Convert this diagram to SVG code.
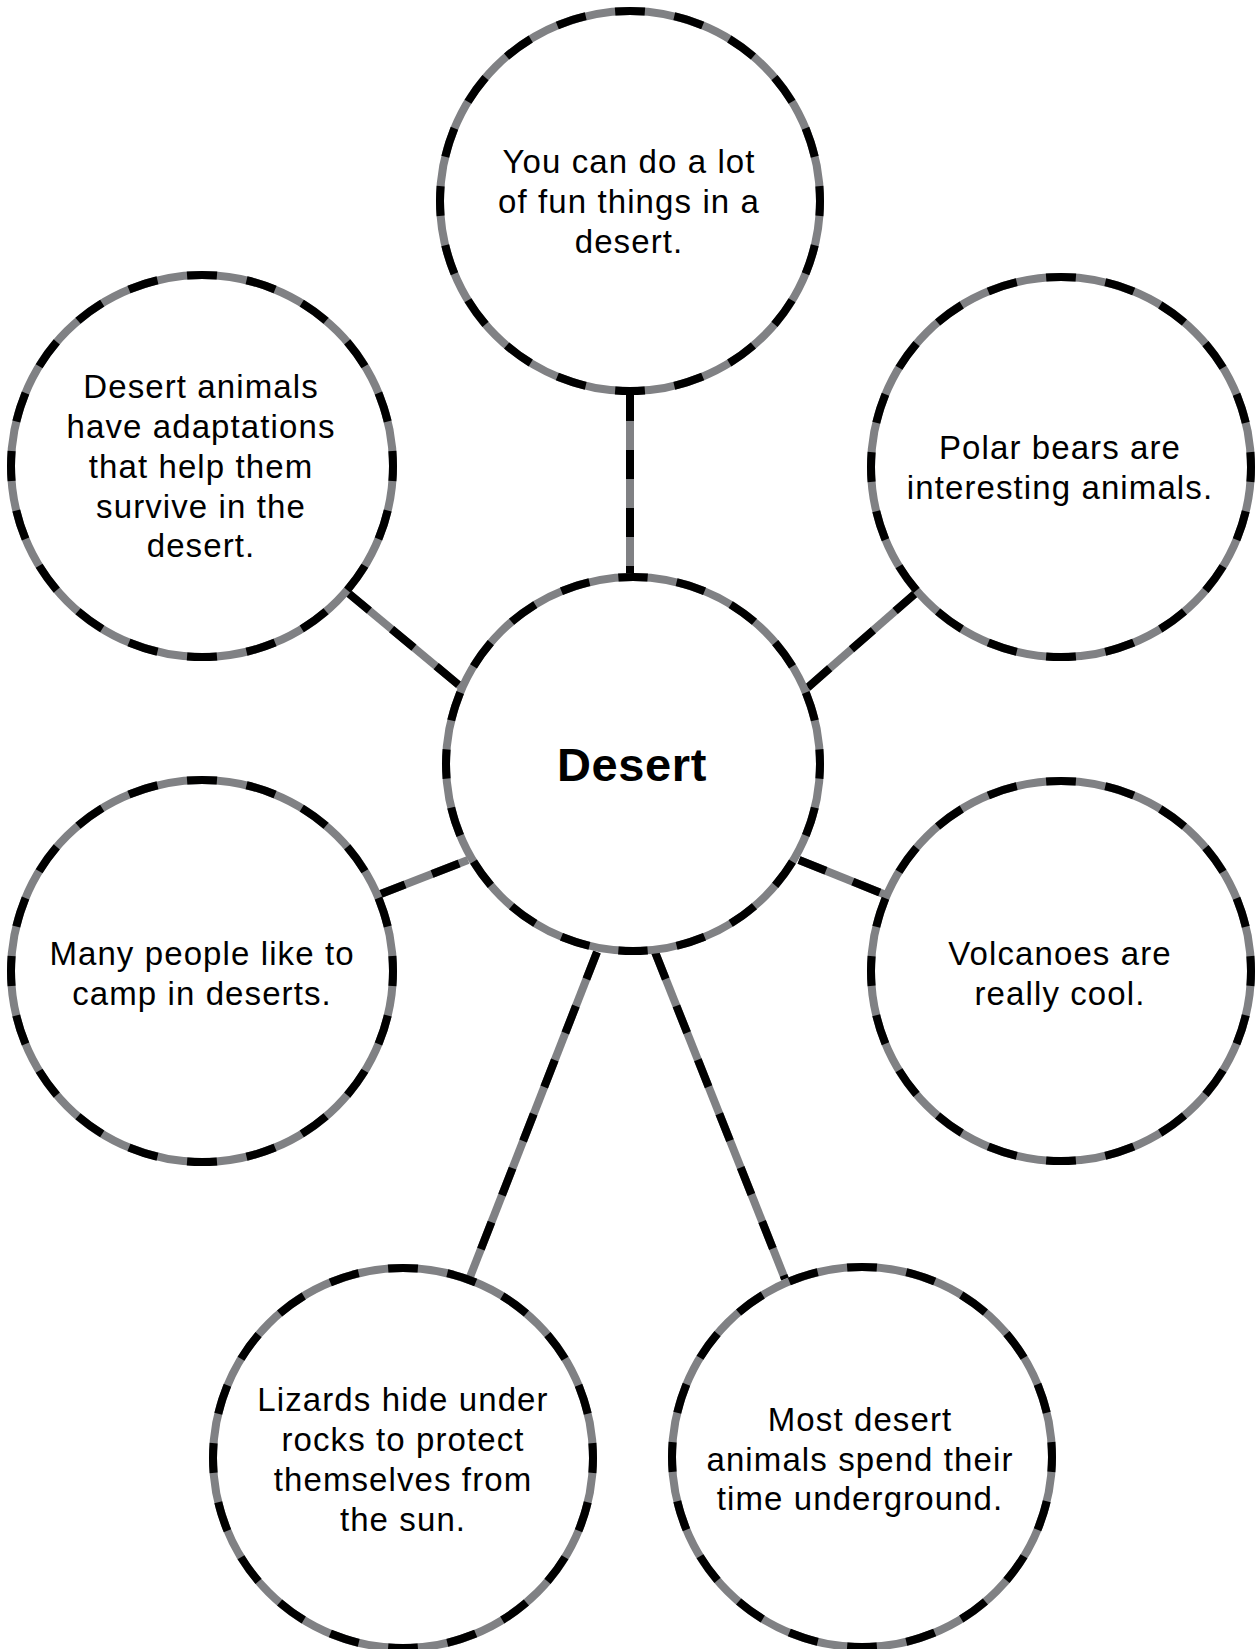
<svg xmlns="http://www.w3.org/2000/svg" width="1259" height="1649" viewBox="0 0 1259 1649">
<style>
.base{fill:none;stroke:#808184;stroke-width:8}
.dash{fill:none;stroke:#000;stroke-width:8;stroke-dasharray:29 29}
.cd{fill:none;stroke:#000;stroke-width:8;stroke-dasharray:1 1;stroke-dashoffset:0.5}
.node{fill:#fff}
.t{font-family:"Liberation Sans",Arial,sans-serif;font-size:33px;letter-spacing:1.1px;text-anchor:middle;fill:#000}
.b{font-family:"Liberation Sans",Arial,sans-serif;font-size:47px;font-weight:bold;letter-spacing:0.6px;text-anchor:middle;fill:#000}
</style>
<rect width="1259" height="1649" fill="#fff"/>
<g id="connectors">
<g class="base">
<line x1="630" y1="392" x2="630" y2="576"/>
<line x1="347" y1="592" x2="460" y2="686"/>
<line x1="917" y1="592" x2="806" y2="689"/>
<line x1="378" y1="895" x2="468" y2="860"/>
<line x1="799" y1="860" x2="886" y2="895"/>
<line x1="597" y1="952" x2="470" y2="1277"/>
<line x1="655" y1="952" x2="785" y2="1279"/>
</g>
<g class="dash">
<line x1="630" y1="392" x2="630" y2="576"/>
<line x1="347" y1="592" x2="460" y2="686"/>
<line x1="917" y1="592" x2="806" y2="689"/>
<line x1="378" y1="895" x2="468" y2="860"/>
<line x1="799" y1="860" x2="886" y2="895"/>
<line x1="597" y1="952" x2="470" y2="1277"/>
<line x1="655" y1="952" x2="785" y2="1279"/>
</g>
</g>
<g id="node-center">
<circle class="node" cx="633" cy="764" r="187"/>
<circle class="base" cx="633" cy="764" r="187"/>
<circle class="cd" cx="633" cy="764" r="187" pathLength="40"/>
<text class="b" x="632" y="781">Desert</text>
</g>
<g id="node-top">
<circle class="node" cx="630" cy="201" r="190"/>
<circle class="base" cx="630" cy="201" r="190"/>
<circle class="cd" cx="630" cy="201" r="190" pathLength="40"/>
<text class="t" x="629" y="173">You can do a lot</text>
<text class="t" x="629" y="213">of fun things in a</text>
<text class="t" x="629" y="253">desert.</text>
</g>
<g id="node-top-left">
<circle class="node" cx="202" cy="466" r="191"/>
<circle class="base" cx="202" cy="466" r="191"/>
<circle class="cd" cx="202" cy="466" r="191" pathLength="40"/>
<text class="t" x="201" y="398">Desert animals</text>
<text class="t" x="201" y="438">have adaptations</text>
<text class="t" x="201" y="478">that help them</text>
<text class="t" x="201" y="518">survive in the</text>
<text class="t" x="201" y="557">desert.</text>
</g>
<g id="node-top-right">
<circle class="node" cx="1061" cy="467" r="190"/>
<circle class="base" cx="1061" cy="467" r="190"/>
<circle class="cd" cx="1061" cy="467" r="190" pathLength="40"/>
<text class="t" x="1060" y="459">Polar bears are</text>
<text class="t" x="1060" y="499">interesting animals.</text>
</g>
<g id="node-mid-left">
<circle class="node" cx="202" cy="971" r="191"/>
<circle class="base" cx="202" cy="971" r="191"/>
<circle class="cd" cx="202" cy="971" r="191" pathLength="40"/>
<text class="t" x="202" y="965">Many people like to</text>
<text class="t" x="202" y="1005">camp in deserts.</text>
</g>
<g id="node-mid-right">
<circle class="node" cx="1061" cy="971" r="190"/>
<circle class="base" cx="1061" cy="971" r="190"/>
<circle class="cd" cx="1061" cy="971" r="190" pathLength="40"/>
<text class="t" x="1060" y="965">Volcanoes are</text>
<text class="t" x="1060" y="1005">really cool.</text>
</g>
<g id="node-bottom-left">
<circle class="node" cx="403" cy="1458" r="190"/>
<circle class="base" cx="403" cy="1458" r="190"/>
<circle class="cd" cx="403" cy="1458" r="190" pathLength="40"/>
<text class="t" x="403" y="1411">Lizards hide under</text>
<text class="t" x="403" y="1451">rocks to protect</text>
<text class="t" x="403" y="1491">themselves from</text>
<text class="t" x="403" y="1531">the sun.</text>
</g>
<g id="node-bottom-right">
<circle class="node" cx="862" cy="1457" r="190"/>
<circle class="base" cx="862" cy="1457" r="190"/>
<circle class="cd" cx="862" cy="1457" r="190" pathLength="40"/>
<text class="t" x="860" y="1431">Most desert</text>
<text class="t" x="860" y="1471">animals spend their</text>
<text class="t" x="860" y="1510">time underground.</text>
</g>
</svg>
